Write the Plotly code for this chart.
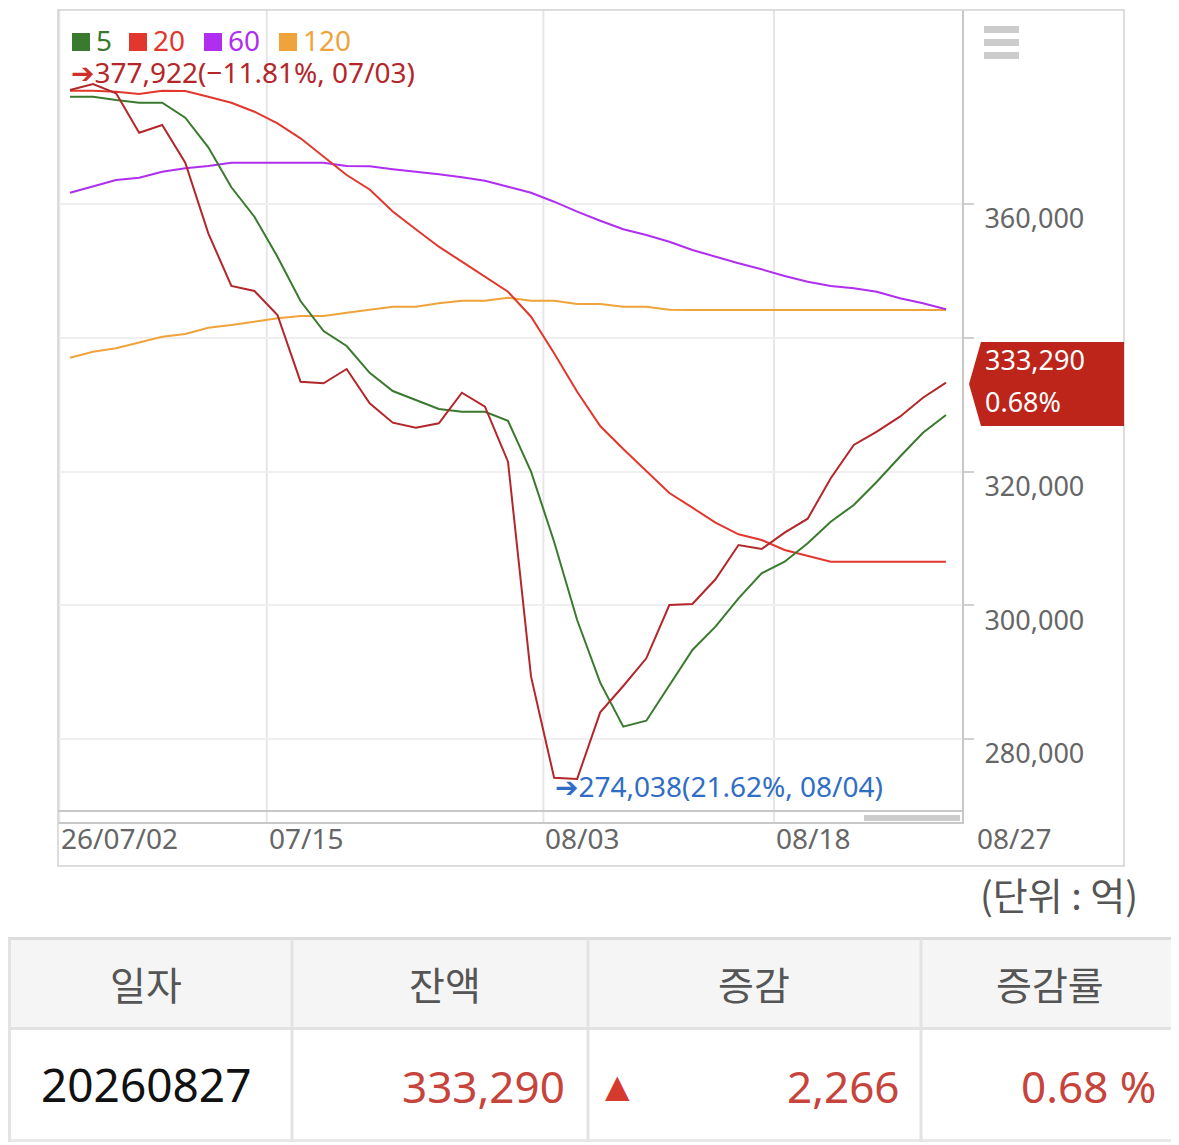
import plotly.graph_objects as go

# page body has an 8px margin; the figure is sized to fill the rest of the window
PAGE_OFF = 8
W, H = 1179 - PAGE_OFF, 1145 - PAGE_OFF
FONT = "Noto Sans, Noto Sans CJK KR, DejaVu Sans, sans-serif"
KFONT = "Noto Sans CJK KR, Noto Sans, sans-serif"

# ---------------- data ----------------
dates = ["07/02", "07/03", "07/06", "07/07", "07/08", "07/09", "07/10", "07/13", "07/14", "07/15",
         "07/16", "07/20", "07/21", "07/22", "07/23", "07/24", "07/27", "07/28", "07/29", "07/30",
         "07/31", "08/03", "08/04", "08/05", "08/06", "08/07", "08/10", "08/11", "08/12", "08/13",
         "08/14", "08/18", "08/19", "08/20", "08/21", "08/24", "08/25", "08/26", "08/27"]

balance = [377046, 377922, 376553, 370661, 371813, 366176, 355619, 347739, 346991, 343402,
           333429, 333189, 335328, 330199, 327298, 326550, 327208, 331784, 329690, 321466,
           289317, 274215, 274038, 283994, 287927, 292069, 300038, 300188, 303881, 309010,
           308412, 310850, 312943, 318984, 323963, 325952, 328195, 331024, 333290]

ma5 = [376045, 376045, 375551, 375147, 375147, 372904, 368478, 362497, 358101, 352120,
       345496, 341010, 338767, 334759, 332038, 330692, 329346, 328943, 328943, 327582,
       319971, 309504, 297796, 288420, 281841, 282738, 288076, 293310, 296794, 301040,
       304779, 306513, 309264, 312494, 314991, 318475, 322214, 325802, 328449]

ma20 = [376942, 376942, 376792, 376448, 376942, 376897, 376045, 375147, 373802, 372067,
        369824, 367073, 364336, 362168, 358879, 356217, 353615, 351372, 349129, 346886,
        343148, 337675, 331933, 326804, 323365, 320075, 316786, 314588, 312345, 310610,
        309758, 308263, 307365, 306513, 306513, 306513, 306513, 306513, 306513]

ma60 = [361690, 362587, 363589, 363933, 364830, 365338, 365682, 366176, 366176, 366176,
        366176, 366176, 365682, 365637, 365189, 364830, 364441, 363992, 363484, 362587,
        361690, 360344, 358849, 357503, 356217, 355365, 354363, 353122, 352120, 351133,
        350236, 349234, 348382, 347739, 347395, 346886, 345899, 345152, 344254]

ma120 = [337017, 337915, 338423, 339260, 340157, 340561, 341503, 341907, 342400, 342909,
         343253, 343253, 343746, 344225, 344643, 344643, 345152, 345540, 345540, 345989,
         345540, 345540, 345047, 345047, 344643, 344643, 344195, 344150, 344150, 344150,
         344150, 344150, 344150, 344150, 344150, 344150, 344150, 344150, 344150]

y_ticks = [280000, 300000, 320000, 340000, 360000]
x_tick_dates = ["07/02", "07/15", "08/03", "08/18"]
x_tick_labels = ["26/07/02", "07/15", "08/03", "08/18"]
last_label = "08/27"

legend_names = ["5", "20", "60", "120"]
unit_text = "(단위 : 억)"
table_headers = ["일자", "잔액", "증감", "증감률"]
table_row = ["20260827", "333,290", "2,266", "0.68 %"]
last_change_pct = "0.68%"

# ---------------- styles ----------------
C_MAIN = "#b3262a"
C_MA5 = "#3a7a2e"
C_MA20 = "#e2372d"
C_MA60 = "#b02ef0"
C_MA120 = "#f0a33a"
C_BLUE = "#2f6ec4"
C_TAG = "#bd251b"
C_TBL_RED = "#c6443b"


def px(x):
    return (x - PAGE_OFF) / W


def py(y):
    return 1 - (y - PAGE_OFF) / H


fig = go.Figure()
for vals, col in [(ma120, C_MA120), (ma60, C_MA60), (ma20, C_MA20), (ma5, C_MA5), (balance, C_MAIN)]:
    fig.add_trace(go.Scatter(x=dates, y=vals, mode="lines",
                             line=dict(color=col, width=2), hoverinfo="skip"))

shapes = []
annos = []

# vertical grid lines at tick positions (ticks sit a bit before the day's point)
TICK_OFF = 0.464
for d in x_tick_dates:
    xi = dates.index(d) - TICK_OFF
    shapes.append(dict(type="line", xref="x", yref="paper", x0=xi, x1=xi,
                       y0=py(822), y1=py(10), line=dict(color="#e6e6e6", width=2), layer="below"))
for d, lab in zip(x_tick_dates, x_tick_labels):
    xi = dates.index(d) - TICK_OFF
    annos.append(dict(x=xi, xref="x", y=py(838), yref="paper", text=lab, showarrow=False,
                      xanchor="left", yanchor="middle", xshift=0,
                      font=dict(family=FONT, size=28, color="#666666")))
annos.append(dict(x=px(975), y=py(838), xref="paper", yref="paper", text=last_label,
                  showarrow=False, xanchor="left", yanchor="middle",
                  font=dict(family=FONT, size=28, color="#666666")))

# outer frame
shapes.append(dict(type="rect", xref="paper", yref="paper", x0=px(58), x1=px(1124),
                   y0=py(866), y1=py(10), line=dict(color="#d2d2d2", width=1.5)))
# navigator strip line + scrollbar thumb
shapes.append(dict(type="line", xref="paper", yref="paper", x0=px(58), x1=px(962),
                   y0=py(811), y1=py(811), line=dict(color="#c8c8c8", width=2)))
shapes.append(dict(type="rect", xref="paper", yref="paper", x0=px(864), x1=px(960),
                   y0=py(821), y1=py(815), fillcolor="#cccccc", line=dict(width=0)))

# menu icon
for yt in (26, 39, 52):
    shapes.append(dict(type="rect", xref="paper", yref="paper", x0=px(984), x1=px(1019),
                       y0=py(yt + 7), y1=py(yt), fillcolor="#cccccc", line=dict(width=0)))

# legend
leg_cols = [C_MA5, C_MA20, C_MA60, C_MA120]
leg_x = [72, 129, 204, 279]
for name, col, x0 in zip(legend_names, leg_cols, leg_x):
    shapes.append(dict(type="rect", xref="paper", yref="paper", x0=px(x0), x1=px(x0 + 18),
                       y0=py(51), y1=py(33), fillcolor=col, line=dict(width=0)))
    annos.append(dict(x=px(x0 + 22), y=py(40), xref="paper", yref="paper", text=name,
                      showarrow=False, xanchor="left", yanchor="middle",
                      font=dict(family=FONT, size=28, color=col)))

# max / min labels
i_max = balance.index(max(balance))
i_min = balance.index(min(balance))
last = balance[-1]
pct_max = (last / balance[i_max] - 1) * 100
pct_min = (last / balance[i_min] - 1) * 100
txt_max = f"{balance[i_max]:,}({pct_max:.2f}%, {dates[i_max]})".replace("-", "\u2212")
txt_min = f"{balance[i_min]:,}({pct_min:.2f}%, {dates[i_min]})"
annos.append(dict(x=px(69), y=py(72), xref="paper", yref="paper",
                  text=f"<span style='color:#d0302a'>\u2794</span>{txt_max}",
                  showarrow=False, xanchor="left", yanchor="middle",
                  font=dict(family=FONT, size=28, color=C_MAIN)))
annos.append(dict(x=px(553), y=py(786), xref="paper", yref="paper",
                  text=f"\u2794{txt_min}",
                  showarrow=False, xanchor="left", yanchor="middle",
                  font=dict(family=FONT, size=28, color=C_BLUE)))

# last value tag
tag = (f"M {px(981)} {py(342)} L {px(1124)} {py(342)} L {px(1124)} {py(426)} "
       f"L {px(981)} {py(426)} L {px(969)} {py(384)} Z")
shapes.append(dict(type="path", xref="paper", yref="paper", path=tag,
                   fillcolor=C_TAG, line=dict(width=0), layer="above"))
annos.append(dict(x=px(983), y=py(359), xref="paper", yref="paper", text=f"{last:,}",
                  showarrow=False, xanchor="left", yanchor="middle",
                  font=dict(family=FONT, size=27, color="white")))
annos.append(dict(x=px(983), y=py(401), xref="paper", yref="paper", text=last_change_pct,
                  showarrow=False, xanchor="left", yanchor="middle",
                  font=dict(family=FONT, size=27, color="white")))

# unit
annos.append(dict(x=px(1140), y=py(893), xref="paper", yref="paper", text=unit_text,
                  showarrow=False, xanchor="right", yanchor="middle",
                  font=dict(family=KFONT, size=38, color="#555555")))

# ---------------- table ----------------
shapes.append(dict(type="rect", xref="paper", yref="paper", x0=0, x1=1, y0=py(1028),
                   y1=py(939), fillcolor="#f5f5f5", line=dict(width=0)))
for yl, col in [(938.5, "#dcdcdc"), (1028.5, "#e3e3e3"), (1140.5, "#e9e9e9")]:
    shapes.append(dict(type="line", xref="paper", yref="paper", x0=0, x1=1, y0=py(yl), y1=py(yl),
                       line=dict(color=col, width=3)))
for xl in (9.5, 292, 588, 921, 1177.5):
    shapes.append(dict(type="line", xref="paper", yref="paper", x0=px(xl), x1=px(xl),
                       y0=py(1142), y1=py(939), line=dict(color="#e3e3e3", width=3)))

col_centers = [146, 445, 754, 1050]
for h, cx in zip(table_headers, col_centers):
    annos.append(dict(x=px(cx), y=py(983), xref="paper", yref="paper", text=h, showarrow=False,
                      xanchor="center", yanchor="middle",
                      font=dict(family=KFONT, size=39, color="#555555")))

annos.append(dict(x=px(146), y=py(1084), xref="paper", yref="paper", text=table_row[0],
                  showarrow=False, xanchor="center", yanchor="middle",
                  font=dict(family=FONT, size=46, color="#111111")))
for txt, xr in zip(table_row[1:], (567, 901, 1158)):
    annos.append(dict(x=px(xr), y=py(1086), xref="paper", yref="paper", text=txt,
                      showarrow=False, xanchor="right", yanchor="middle",
                      font=dict(family=FONT, size=44, color=C_TBL_RED)))
annos.append(dict(x=px(617), y=py(1086), xref="paper", yref="paper", text="\u25b2",
                  showarrow=False, xanchor="center", yanchor="middle",
                  font=dict(family="DejaVu Sans", size=32, color="#d63a2f")))

fig.update_layout(
    width=W, height=H, autosize=False,
    margin=dict(l=0, r=0, t=0, b=0),
    paper_bgcolor="white", plot_bgcolor="white", showlegend=False,
    xaxis=dict(type="category", domain=[px(58), px(962)], range=[-0.5205, 38.694],
               showgrid=False, showticklabels=False, zeroline=False, ticks="",
               showline=True, linecolor="#c8c8c8", linewidth=2, fixedrange=True),
    yaxis=dict(domain=[py(822), py(10)], range=[267590, 389009], side="right",
               tickvals=y_ticks, tickformat=",d", showgrid=True, gridcolor="#efefef",
               gridwidth=2, ticks="outside", ticklen=10, tickcolor="#d0d0d0", tickwidth=2,
               showline=True, linecolor="#c8c8c8", linewidth=2, zeroline=False,
               tickfont=dict(family=FONT, size=27, color="#666666"),
               ticklabelshift=15, ticklabelstandoff=5, fixedrange=True),
    shapes=shapes, annotations=annos,
)

fig.write_html("out.html")
